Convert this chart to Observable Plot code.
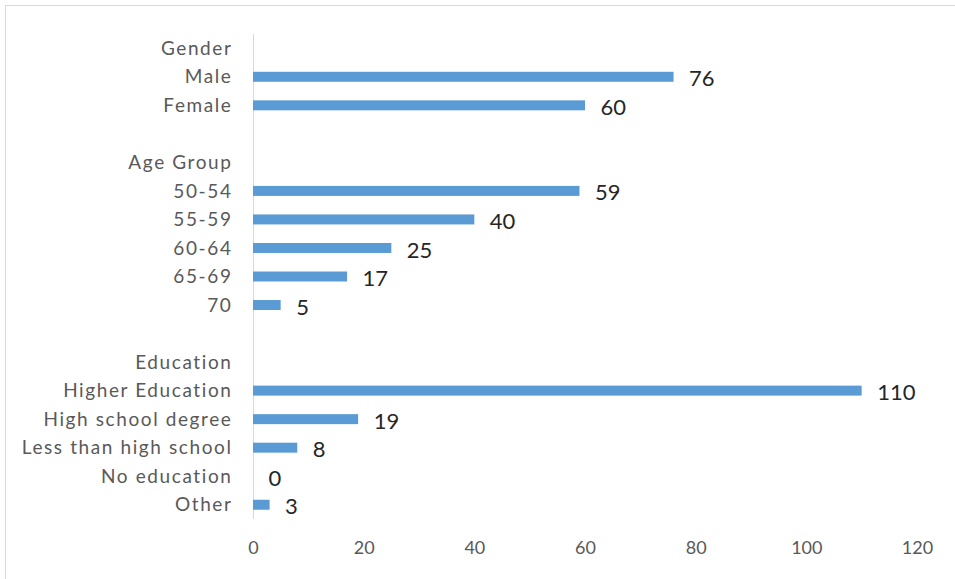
<!DOCTYPE html>
<html>
<head>
<meta charset="utf-8">
<script src="https://cdn.jsdelivr.net/npm/d3@7"></script>
<script src="https://cdn.jsdelivr.net/npm/@observablehq/plot@0.6"></script>
<style>
  html, body { margin: 0; padding: 0; background: #fff; }
  #wrap { position: relative; width: 955px; height: 579px; }
  #wrap .bt { position: absolute; left: 5px; top: 5px; width: 950px; height: 0; border-top: 1px solid #d9d9d9; }
  #wrap .bl { position: absolute; left: 5px; top: 5px; width: 0; height: 574px; border-left: 1px solid #d9d9d9; }
  g[aria-label="y-axis tick label"] text { letter-spacing: 1.6px; }
</style>
</head>
<body>
<div id="wrap"><div class="bt"></div><div class="bl"></div></div>
<script>
// Row labels (group headers and blank spacer rows have null values)
const labels = ["Gender", "Male", "Female", "", "Age Group", "50-54", "55-59", "60-64", "65-69", "70", "", "Education", "Higher Education", "High school degree", "Less than high school", "No education", "Other"];
const values = [null, 76, 60, null, null, 59, 40, 25, 17, 5, null, null, 110, 19, 8, 0, 3];
const xTicks = [0, 20, 40, 60, 80, 100, 120];

const rows = labels.map((label, i) => ({ i, label, value: values[i] }));
const bars = rows.filter(d => d.value !== null);

const chart = Plot.plot({
  width: 955,
  height: 579,
  marginLeft: 253,
  marginRight: 38,
  marginTop: 34,
  marginBottom: 60,
  style: { fontFamily: "Lato, sans-serif", background: "transparent" },
  x: { domain: [0, 120], ticks: xTicks },
  y: { domain: rows.map(d => d.i), paddingInner: 0.65, paddingOuter: 0.325, round: false },
  marks: [
    Plot.ruleX([0], { stroke: "#d9d9d9", strokeWidth: 1 }),
    Plot.barX(bars, { x: "value", y: "i", fill: "#5b9bd5" }),
    Plot.text(bars, { x: "value", y: "i", text: d => String(d.value), textAnchor: "start", dx: 15, dy: 2, fill: "#262626", fontSize: 22 }),
    Plot.axisY({ tickSize: 0, tickPadding: 21, tickFormat: i => labels[i], fontSize: 19, fill: "#595959", label: null }),
    Plot.axisX({ ticks: xTicks, tickSize: 0, tickPadding: 22, fontSize: 18, fill: "#595959", label: null })
  ]
});
chart.style.position = "absolute";
chart.style.left = "0px";
chart.style.top = "0px";
document.getElementById("wrap").appendChild(chart);
</script>
</body>
</html>
